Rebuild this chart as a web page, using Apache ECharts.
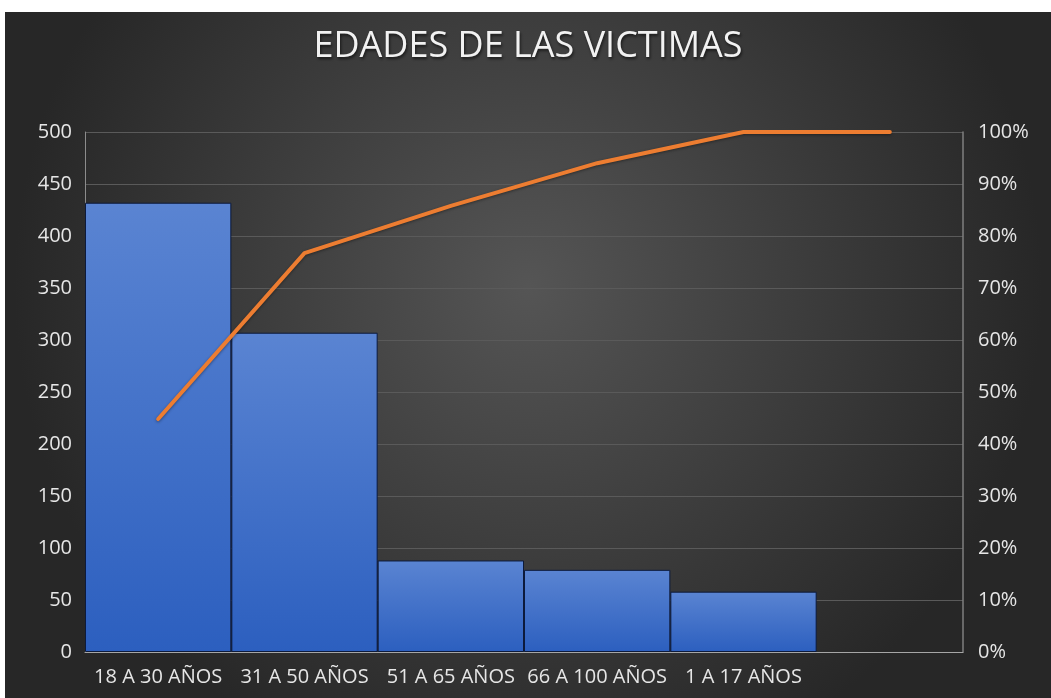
<!DOCTYPE html>
<html>
<head>
<meta charset="utf-8">
<script src="https://cdn.jsdelivr.net/npm/echarts@6/dist/echarts.min.js"></script>
<style>
  html, body { margin: 0; padding: 0; background: #ffffff; }
  #chart { position: absolute; left: 5px; top: 12px; width: 1046px; height: 686px; }
</style>
</head>
<body>
<div id="chart"></div>
<script>
// categorias (la sexta queda vacia, como en el original)
const categories = ['18 A 30 AÑOS', '31 A 50 AÑOS', '51 A 65 AÑOS', '66 A 100 AÑOS', '1 A 17 AÑOS', ''];
const victimas = [432, 307, 88, 79, 58, null];
const acumulado = [44.8, 76.7, 85.8, 94.0, 100, 100]; // %

const labelFont = '"Open Sans", Lato, sans-serif';

const chart = echarts.init(document.getElementById('chart'));
chart.setOption({
    animation: false,
    backgroundColor: {
        type: 'radial', x: 0.5, y: 0.4, r: 0.75,
        colorStops: [
            {offset: 0, color: '#555555'},
            {offset: 1, color: '#272727'}
        ]
    },
    title: {
        text: 'EDADES DE LAS VICTIMAS',
        left: 'center',
        top: 12,
        textStyle: {
            color: '#f2f2f2',
            fontFamily: labelFont,
            fontWeight: 'normal',
            fontSize: 36,
            textShadowColor: 'rgba(0,0,0,0.6)',
            textShadowBlur: 3,
            textShadowOffsetX: 1,
            textShadowOffsetY: 2
        }
    },
    grid: {left: 80, right: 88, top: 120, bottom: 46},
    xAxis: {
        type: 'category',
        data: categories,
        boundaryGap: true,
        axisLine: {lineStyle: {color: '#a6a6a6', width: 1}},
        axisTick: {show: false},
        axisLabel: {color: '#e6e6e6', fontSize: 20, fontFamily: labelFont, margin: 15, interval: 0}
    },
    yAxis: [
        {
            type: 'value',
            min: 0, max: 500, interval: 50,
            axisLine: {show: true, lineStyle: {color: '#8c8c8c'}},
            axisTick: {show: false},
            splitLine: {lineStyle: {color: '#5a5a5a', width: 1}},
            axisLabel: {color: '#e6e6e6', fontSize: 20, fontFamily: labelFont, margin: 13}
        },
        {
            type: 'value',
            min: 0, max: 100, interval: 10,
            axisLine: {show: true, lineStyle: {color: '#7f7f7f', width: 1.5}},
            axisTick: {show: false},
            splitLine: {show: false},
            axisLabel: {color: '#e6e6e6', fontSize: 20, fontFamily: labelFont, margin: 15, formatter: '{value}%'}
        }
    ],
    series: [
        {
            type: 'bar',
            data: victimas,
            barWidth: '100%',
            barCategoryGap: '0%',
            itemStyle: {
                color: {
                    type: 'linear', x: 0, y: 0, x2: 0, y2: 1,
                    colorStops: [
                        {offset: 0, color: '#5a84d2'},
                        {offset: 1, color: '#2c5fbf'}
                    ]
                },
                borderColor: '#0c1a3c',
                borderWidth: 1
            }
        },
        {
            type: 'line',
            yAxisIndex: 1,
            data: acumulado,
            showSymbol: false,
            lineStyle: {
                color: '#ed7d31', width: 4, cap: 'round', join: 'round',
                shadowColor: 'rgba(0,0,0,0.4)', shadowBlur: 3, shadowOffsetY: 1
            }
        }
    ]
});
</script>
</body>
</html>
